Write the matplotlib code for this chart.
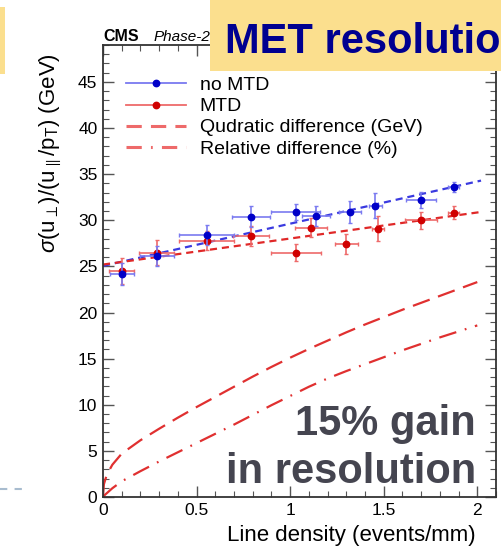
import matplotlib
matplotlib.use("Agg")
import matplotlib.pyplot as plt
from matplotlib.lines import Line2D
from matplotlib.patches import Rectangle
from matplotlib.ticker import MultipleLocator

plt.rcParams['font.family'] = ['Liberation Sans', 'DejaVu Sans']
plt.rcParams['mathtext.fontset'] = 'custom'
plt.rcParams['mathtext.rm'] = 'Liberation Sans'
plt.rcParams['mathtext.it'] = 'Liberation Sans:italic'
plt.rcParams['mathtext.bf'] = 'Liberation Sans:bold'

# ---------------- data ----------------
x_nomtd = [0.10, 0.287, 0.554, 0.79, 1.03, 1.137, 1.32, 1.455, 1.70, 1.873]
y_nomtd = [24.15, 26.1, 28.4, 30.4, 30.9, 30.5, 30.9, 31.6, 32.2, 33.6]
xerr_nomtd = [0.064, 0.09, 0.146, 0.10, 0.13, 0.075, 0.057, 0.036, 0.08, 0.027]
yerr_nomtd = [1.2, 1.1, 1.1, 1.15, 0.9, 1.1, 1.2, 1.35, 0.85, 0.55]

x_mtd = [0.10, 0.287, 0.554, 0.79, 1.03, 1.11, 1.30, 1.47, 1.70, 1.873]
y_mtd = [24.5, 26.5, 27.8, 28.3, 26.5, 29.2, 27.4, 29.1, 30.0, 30.8]
xerr_mtd = [0.067, 0.092, 0.147, 0.097, 0.134, 0.085, 0.062, 0.03, 0.085, 0.027]
yerr_mtd = [1.4, 1.35, 1.0, 1.1, 0.95, 1.0, 1.1, 1.35, 0.9, 0.7]

fit_x = [0.0, 2.02]
fit_nomtd = [25.05, 34.3]
fit_mtd = [25.2, 30.9]

quad_x = [0.0, 0.005, 0.02, 0.05, 0.1, 0.2, 0.3, 0.4, 0.5, 0.6, 0.7, 0.8, 0.9,
          1.0, 1.1, 1.2, 1.3, 1.4, 1.5, 1.6, 1.7, 1.8, 1.9, 2.0]
quad_y = [0.3, 1.4, 2.4, 3.5, 4.7, 6.15, 7.4, 8.6, 9.75, 10.85, 11.95, 13.05, 14.1,
          15.1, 16.05, 16.95, 17.85, 18.7, 19.5, 20.3, 21.05, 21.8, 22.55, 23.3]

rel_x = [0.0, 0.05, 0.1, 0.2, 0.3, 0.4, 0.5, 0.6, 0.7, 0.8, 0.9, 1.0, 1.1, 1.2,
         1.3, 1.4, 1.5, 1.6, 1.7, 1.8, 1.9, 2.0]
rel_y = [0.05, 0.95, 1.7, 2.8, 3.85, 4.85, 5.85, 6.85, 7.85, 8.9, 9.95, 10.95, 11.95, 12.85,
         13.65, 14.4, 15.15, 15.9, 16.6, 17.3, 17.95, 18.6]

labels = ["no MTD", "MTD", "Qudratic difference (GeV)", "Relative difference (%)"]

# ---------------- figure ----------------
W, H = 502, 547
fig = plt.figure(figsize=(W / 100, H / 100), dpi=100)
ax = fig.add_axes([103 / W, 1 - 497 / H, (496 - 103) / W, (497 - 45) / H])

blue = '#0000c8'
blue_light = '#7a7af0'
red = '#d00000'
red_light = '#ee6a6a'
red_line = '#e03030'

ax.plot(fit_x, fit_nomtd, color='#3a3ae0', lw=1.6, ls=(0, (3.2, 2.2)), zorder=2)
ax.plot(fit_x, fit_mtd, color='#e02828', lw=1.6, ls=(0, (3.2, 2.2)), zorder=2)

ax.errorbar(x_mtd, y_mtd, xerr=xerr_mtd, yerr=yerr_mtd, fmt='o', color=red,
            ms=4.6, ecolor=red_light, elinewidth=1.2, capsize=1.5, capthick=1.0, zorder=3)
ax.errorbar(x_nomtd, y_nomtd, xerr=xerr_nomtd, yerr=yerr_nomtd, fmt='o', color=blue,
            ms=4.6, ecolor=blue_light, elinewidth=1.2, capsize=1.5, capthick=1.0, zorder=4)

ax.plot(quad_x, quad_y, color=red_line, lw=1.6, ls=(0, (8, 4)), zorder=2)
ax.plot(rel_x, rel_y, color=red_line, lw=1.6, ls=(0, (8, 4, 0.8, 4)), zorder=2)

ax.set_xlim(0, 2.1)
ax.set_ylim(0, 49)
ax.xaxis.set_major_locator(MultipleLocator(0.5))
ax.xaxis.set_minor_locator(MultipleLocator(0.1))
ax.yaxis.set_major_locator(MultipleLocator(5))
ax.yaxis.set_minor_locator(MultipleLocator(1))
ax.set_xticks([0, 0.5, 1, 1.5, 2])
ax.set_xticklabels(['0', '0.5', '1', '1.5', '2'])
ax.tick_params(which='both', direction='in', top=True, right=True, color='#555555')
ax.tick_params(which='major', length=8, width=1.0, labelsize=12.5, pad=4)
ax.tick_params(which='minor', length=4, width=0.8)
for s in ax.spines.values():
    s.set_linewidth(1.3)
    s.set_color('#333333')

ax.set_xlabel('Line density (events/mm)', fontsize=16, loc='right')
ax.xaxis.set_label_coords((476 - 103) / 393, -0.062)
ax.set_ylabel(r'$\sigma(\mathrm{u}_{\perp})/(\mathrm{u}_{\parallel}/\mathrm{p}_{\mathrm{T}})$ (GeV)',
              fontsize=16, loc='top')
ax.yaxis.set_label_coords(-0.10, 0.982)

handles = [
    Line2D([], [], color=blue_light, lw=1.3, marker='o', mfc=blue, mec=blue, ms=4.6),
    Line2D([], [], color=red_light, lw=1.3, marker='o', mfc=red, mec=red, ms=4.6),
    Line2D([], [], color=red_light, lw=2.2, ls=(0, (5, 3))),
    Line2D([], [], color=red_light, lw=2.2, ls=(0, (5, 3, 0.6, 3))),
]
leg = ax.legend(handles, labels, loc='upper left', bbox_to_anchor=(0.058, 0.930),
                frameon=False, fontsize=14, handlelength=3.1, handletextpad=0.7,
                labelspacing=0.18, borderaxespad=0, borderpad=0)

# header texts
fig.text(103 / W, 1 - 41 / H, 'CMS', fontsize=11.5, fontweight='bold', ha='left', va='baseline')
fig.text(154 / W, 1 - 41 / H, 'Phase-2', fontsize=11, style='italic',
         ha='left', va='baseline')

fig.patches.append(Rectangle((210 / W, 1 - 71 / H), 1.0, 71 / H, transform=fig.transFigure,
                             facecolor='#fbdf8e', edgecolor='none', zorder=5))
fig.patches.append(Rectangle((0, 1 - 74 / H), 5 / W, 67 / H, transform=fig.transFigure,
                             facecolor='#fbdf8e', edgecolor='none', zorder=5))
fig.text(225 / W, 1 - 53 / H, 'MET resolution', fontsize=30, fontweight='bold',
         color='#000090', ha='left', va='baseline', zorder=6)

fig.text(476 / W, 1 - 435 / H, '15% gain', fontsize=30, fontweight='bold',
         color='#454550', ha='right', va='baseline', zorder=6)
fig.text(476 / W, 1 - 483 / H, 'in resolution', fontsize=30, fontweight='bold',
         color='#454550', ha='right', va='baseline', zorder=6)

fig.lines.append(Line2D([0, 27 / W], [1 - 489 / H, 1 - 489 / H], transform=fig.transFigure,
                        color='#a8bccf', lw=1.5, ls=(0, (3.5, 3.5))))

fig.savefig('out.png', dpi=100)
